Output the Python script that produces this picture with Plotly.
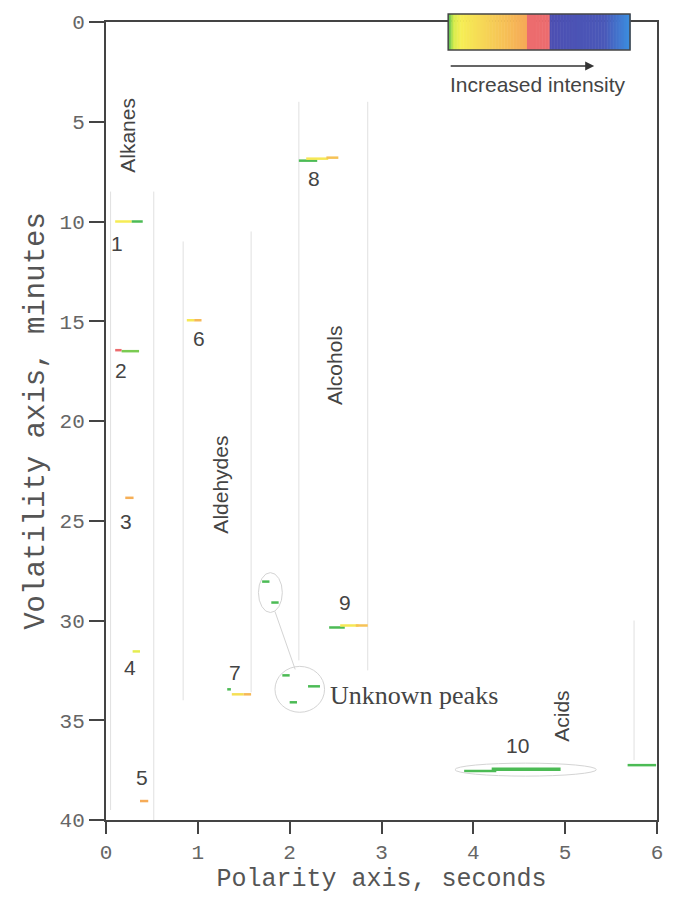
import plotly.graph_objects as go

# ---- GCxGC peak streaks (second-dimension time in s, first-dimension time in min) ----
seg_peak = ["1", "1", "2", "2", "3", "4", "5", "6", "6", "7", "7", "7",
            "8", "8", "8", "9", "9", "9", "10", "10",
            "u1", "u2", "u3", "u4", "u5", "x"]
seg_x0 = [0.10, 0.28, 0.10, 0.17, 0.21, 0.29, 0.37, 0.88, 0.96, 1.32, 1.37, 1.50,
          2.10, 2.18, 2.40, 2.43, 2.55, 2.72, 3.90, 4.20,
          1.70, 1.80, 1.92, 2.20, 2.00, 5.68]
seg_x1 = [0.28, 0.40, 0.17, 0.36, 0.30, 0.37, 0.46, 0.96, 1.04, 1.36, 1.50, 1.58,
          2.30, 2.42, 2.53, 2.60, 2.75, 2.85, 4.25, 4.95,
          1.78, 1.88, 2.00, 2.33, 2.08, 5.99]
seg_y = [10.0, 10.0, 16.45, 16.5, 23.85, 31.55, 39.05, 14.95, 14.95, 33.45, 33.7, 33.7,
         6.95, 6.85, 6.8, 30.35, 30.25, 30.25, 37.55, 37.45,
         28.05, 29.1, 32.75, 33.3, 34.1, 37.25]
seg_level = [0.08, 0.0, 0.45, 0.01, 0.40, 0.05, 0.42, 0.10, 0.35, 0.0, 0.15, 0.35,
             0.0, 0.10, 0.30, 0.0, 0.10, 0.30, 0.0, 0.0,
             0.0, 0.0, 0.0, 0.0, 0.0, 0.0]

# ---- numbered peak labels ----
num_text = ["1", "2", "3", "4", "5", "6", "7", "8", "9", "10"]
num_x = [0.12, 0.16, 0.22, 0.26, 0.39, 1.01, 1.40, 2.26, 2.60, 4.48]
num_y = [11.1, 17.45, 25.05, 32.35, 37.85, 15.85, 32.6, 7.85, 29.1, 36.25]

# ---- compound class labels ----
class_text = ["Alkanes", "Aldehydes", "Alcohols", "Acids"]
class_x = [0.24, 1.25, 2.48, 4.96]
class_y = [5.7, 23.2, 17.2, 34.8]

# ---- class region boundaries (x, y_start, y_end) ----
region_x = [0.05, 0.52, 0.84, 1.58, 2.10, 2.85, 5.75]
region_y0 = [8.5, 8.5, 11.0, 10.5, 4.0, 4.0, 30.0]
region_y1 = [39.5, 40.0, 34.0, 33.6, 32.0, 32.5, 37.0]

# ---- axis ticks ----
x_ticks = [0, 1, 2, 3, 4, 5, 6]
y_ticks = [0, 5, 10, 15, 20, 25, 30, 35, 40]

# intensity colour scale (low -> high)
scale_pos = [0.0, 0.03, 0.07, 0.43, 0.43, 0.56, 0.56, 0.86, 1.0]
scale_col = ["#4cbb55", "#d6ec4c", "#f6ee55", "#f6a957", "#ec6c6e",
             "#ec6c6e", "#4d4fb2", "#4a58b8", "#3b8fe0"]


def hex_rgb(h):
    h = h.lstrip("#")
    return tuple(int(h[i:i + 2], 16) for i in (0, 2, 4))


def level_color(v):
    v = min(max(v, 0.0), 1.0)
    for i in range(len(scale_pos) - 1):
        a, b = scale_pos[i], scale_pos[i + 1]
        if a <= v <= b:
            if b == a:
                return scale_col[i + 1]
            t = (v - a) / (b - a)
            c0, c1 = hex_rgb(scale_col[i]), hex_rgb(scale_col[i + 1])
            c = [round(c0[k] + (c1[k] - c0[k]) * t) for k in range(3)]
            return "rgb(%d,%d,%d)" % tuple(c)
    return scale_col[-1]


fig = go.Figure()

for pk, x0, x1, y, lv in zip(seg_peak, seg_x0, seg_x1, seg_y, seg_level):
    width = 3.5 if (pk == "10" and x0 > 4) else 2.5
    fig.add_trace(go.Scatter(
        x=[x0, x1], y=[y, y], mode="lines",
        line=dict(color=level_color(lv), width=width),
        hoverinfo="skip", showlegend=False))

shapes = []
grey = "#e0e0e0"
for rx, r0, r1 in zip(region_x, region_y0, region_y1):
    shapes.append(dict(type="line", xref="x", yref="y", x0=rx, x1=rx, y0=r0, y1=r1,
                       line=dict(color=grey, width=1), layer="below"))

# groupings of unknown peaks and the acid peak
ring = "#d4d4d4"
shapes.append(dict(type="circle", xref="x", yref="y", x0=1.66, x1=1.92, y0=27.6, y1=29.6,
                   line=dict(color=ring, width=1)))
shapes.append(dict(type="circle", xref="x", yref="y", x0=1.84, x1=2.38, y0=32.3, y1=34.6,
                   line=dict(color=ring, width=1)))
shapes.append(dict(type="line", xref="x", yref="y", x0=1.84, x1=2.06, y0=29.55, y1=32.45,
                   line=dict(color=ring, width=1)))
shapes.append(dict(type="circle", xref="x", yref="y", x0=3.8, x1=5.34, y0=37.15, y1=37.8,
                   line=dict(color=ring, width=1)))

# intensity key (drawn as thin paper-space strips)
key_x0, key_x1 = 0.621, 0.951
key_y0, key_y1 = 0.965, 1.010
n_strips = 120
for i in range(n_strips):
    a = key_x0 + (key_x1 - key_x0) * i / n_strips
    b = key_x0 + (key_x1 - key_x0) * (i + 1) / n_strips
    shapes.append(dict(type="rect", xref="paper", yref="paper", x0=a, x1=b + 0.001,
                       y0=key_y0, y1=key_y1, line=dict(width=0),
                       fillcolor=level_color((i + 0.5) / n_strips)))
shapes.append(dict(type="rect", xref="paper", yref="paper", x0=key_x0, x1=key_x1,
                   y0=key_y0, y1=key_y1, line=dict(color="#444", width=1.5)))

label_color = "#444"
annotations = []
for t, x, y in zip(num_text, num_x, num_y):
    annotations.append(dict(x=x, y=y, xref="x", yref="y", text=t, showarrow=False,
                            font=dict(family="Liberation Sans", size=21, color=label_color)))
for t, x, y in zip(class_text, class_x, class_y):
    annotations.append(dict(x=x, y=y, xref="x", yref="y", text=t, showarrow=False,
                            textangle=-90,
                            font=dict(family="Liberation Sans", size=21, color=label_color)))
annotations.append(dict(x=2.42, y=33.75, xref="x", yref="y", text="Unknown peaks",
                        showarrow=False, xanchor="left",
                        font=dict(family="Liberation Serif", size=26, color=label_color)))
annotations.append(dict(x=0.886, y=0.945, xref="paper", yref="paper", text="",
                        showarrow=True, ax=-145, ay=0, arrowhead=2, arrowsize=1.2,
                        arrowwidth=1.5, arrowcolor="#333"))
annotations.append(dict(x=0.784, y=0.922, xref="paper", yref="paper",
                        xanchor="center", yanchor="middle",
                        text="Increased intensity", showarrow=False,
                        font=dict(family="Liberation Sans", size=21, color=label_color)))

tick_font = dict(family="Liberation Mono", size=21, color="#666")
xtitle_font = dict(family="Liberation Mono", size=25, color="#555")
ytitle_font = dict(family="Liberation Mono", size=29, color="#555")
fig.update_layout(
    width=674, height=899,
    margin=dict(l=106, r=11, t=22, b=79),
    paper_bgcolor="white", plot_bgcolor="white",
    showlegend=False,
    shapes=shapes, annotations=annotations,
    xaxis=dict(range=[0, 6], tickvals=x_ticks, showgrid=False, zeroline=False,
               showline=True, linecolor="#444", linewidth=2, mirror=True,
               ticks="outside", ticklen=12, tickcolor="#444", tickwidth=1.5,
               tickfont=tick_font,
               title=dict(text="Polarity axis, seconds", font=xtitle_font, standoff=2)),
    yaxis=dict(range=[40, 0], tickvals=y_ticks, showgrid=False, zeroline=False,
               showline=True, linecolor="#444", linewidth=2, mirror=True,
               ticks="outside", ticklen=15, tickcolor="#444", tickwidth=1.5,
               tickfont=tick_font,
               title=dict(text="Volatility axis, minutes", font=ytitle_font, standoff=6)),
)

fig.write_html("out.html")
